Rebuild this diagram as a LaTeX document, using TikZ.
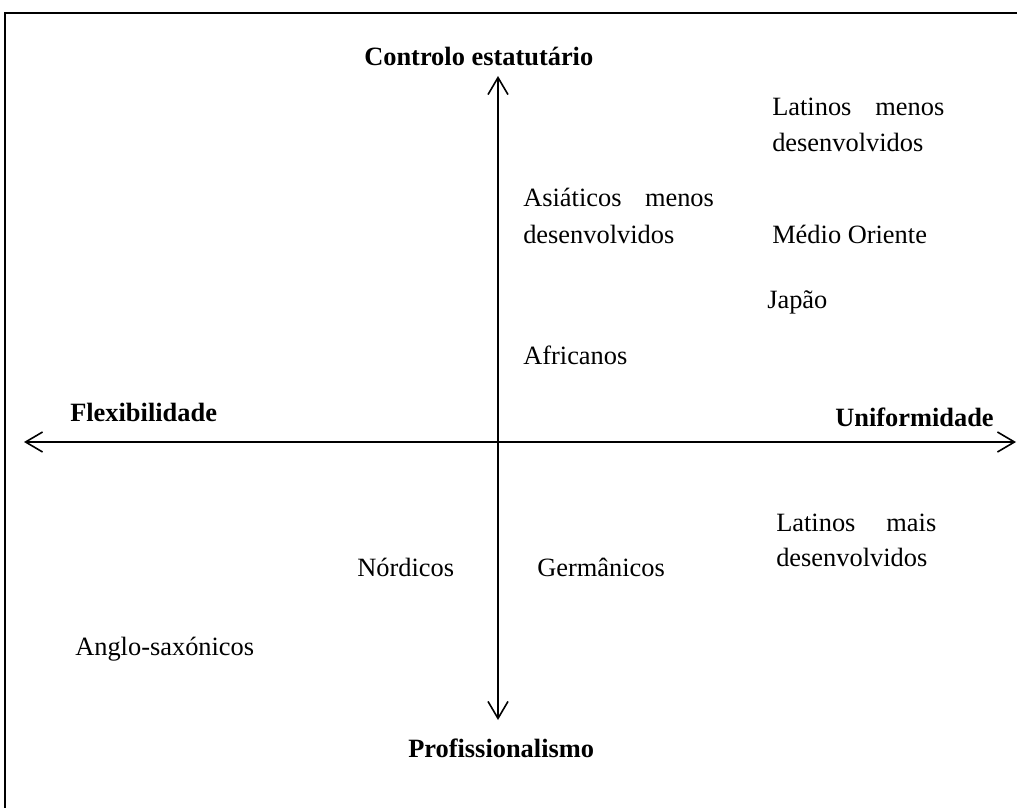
\documentclass[tikz,border=0pt]{standalone}
\usepackage{fontspec}
\setmainfont{Liberation Serif}
\usetikzlibrary{arrows.meta}
\begin{document}
\begin{tikzpicture}[x=0.75pt,y=-0.75pt,
  lbl/.style={anchor=base west,inner sep=0pt,font=\fontsize{19.8}{24}\selectfont},
  hdr/.style={lbl,font=\fontsize{19.8}{24}\selectfont\bfseries},
  axis/.style={line width=1.4pt,{Straight Barb[length=12.75pt,width=15pt,line width=1.2pt]}-{Straight Barb[length=12.75pt,width=15pt,line width=1.2pt]}},
  frame/.style={line width=1.5pt}]
\useasboundingbox (0,0) rectangle (1017,807);
\draw[frame] (5,830) |- (1040,13);
% axes
\coordinate (top) at (498,76);
\coordinate (bot) at (498,720);
\coordinate (lft) at (24,442);
\coordinate (rgt) at (1016,442);
\draw[axis] (bot) -- (top);
\draw[axis] (lft) -- (rgt);
% axis labels
\node[hdr] (ctrl) at (364,65) {Controlo estatutário};
\node[hdr] (flex) at (70,421) {Flexibilidade};
\node[hdr] (unif) at (835,426) {Uniformidade};
\node[hdr] (prof) at (408,757) {Profissionalismo};
% groups
\node[lbl] (lmd1) at (772,115) {\makebox[129pt][s]{Latinos menos}};
\node[lbl] (lmd2) at (772,151) {desenvolvidos};
\node[lbl] (amd1) at (523,206) {\makebox[143pt][s]{Asiáticos menos}};
\node[lbl] (amd2) at (523,243) {desenvolvidos};
\node[lbl] (mo) at (772,243) {Médio Oriente};
\node[lbl] (jap) at (767,308) {Japão};
\node[lbl] (afr) at (523,364) {Africanos};
\node[lbl] (lmais1) at (776,531) {\makebox[120pt][s]{Latinos mais}};
\node[lbl] (lmais2) at (776,566) {desenvolvidos};
\node[lbl] (nor) at (357,576) {Nórdicos};
\node[lbl] (ger) at (537,576) {Germânicos};
\node[lbl] (ang) at (75,655) {Anglo-saxónicos};
\end{tikzpicture}
\end{document}
